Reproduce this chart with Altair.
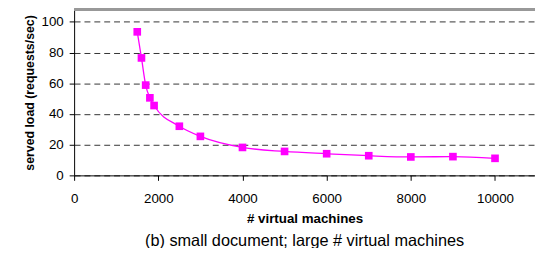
import altair as alt
import pandas as pd

machines = [1500, 1600, 1700, 1800, 1900, 2500, 3000, 4000, 5000, 6000, 7000, 8000, 9000, 10000]
served_load = [93.5, 76.5, 58.8, 50.5, 45.5, 32.0, 25.4, 18.2, 15.6, 14.1, 12.8, 12.0, 12.2, 11.1]
x_ticks = [0, 2000, 4000, 6000, 8000, 10000]
y_ticks = [0, 20, 40, 60, 80, 100]

df = pd.DataFrame({"machines": machines, "load": served_load})

FONT = "Liberation Sans"
MAG = "#FF00FF"

x_enc = alt.X("machines:Q",
              scale=alt.Scale(domain=[0, 10950], nice=False),
              axis=alt.Axis(values=x_ticks, tickCount=12, title="# virtual machines", grid=False,
                            labelFontSize=13.5, titleFontSize=13.5, titleFontWeight="bold",
                            labelFont=FONT, titleFont=FONT, labelColor="black", titleColor="black",
                            domainColor="black", tickColor="black", tickSize=5,
                            labelPadding=11, titlePadding=7, format="d", labelFlush=False,
                            labelOverlap=False))
y_enc = alt.Y("load:Q",
              scale=alt.Scale(domain=[0, 108], nice=False),
              axis=alt.Axis(values=y_ticks, tickCount=12, title="served load (requests/sec)",
                            labelFontSize=13.5, titleFontSize=12.5, titleFontWeight="bold",
                            labelFont=FONT, titleFont=FONT, labelColor="black", titleColor="black",
                            domainColor="black", tickColor="black", tickSize=5,
                            labelPadding=6, titlePadding=5, labelOverlap=False,
                            grid=True, gridDash=[6, 4], gridColor="#333333", gridWidth=1))

base = alt.Chart(df).encode(x=x_enc, y=y_enc)
line = base.mark_line(color=MAG, strokeWidth=1.3, interpolate="monotone")
pts = base.mark_square(color=MAG, size=60, opacity=1)
top = alt.Chart(df).mark_rule(color="#999999", strokeWidth=1.5).encode(y=alt.datum(108))

chart = alt.layer(line, pts, top).properties(
    width=467, height=168,
    autosize=alt.AutoSizeParams(type="none"),
    padding={"left": 67, "top": 0, "right": 0, "bottom": 72},
    title=alt.TitleParams("(b) small document; large # virtual machines", orient="bottom",
                          fontSize=16.5, fontWeight="normal", font=FONT, color="black", offset=9),
).configure_view(stroke=None)

chart.save("out.html", embed_options={"renderer": "svg", "actions": False})
